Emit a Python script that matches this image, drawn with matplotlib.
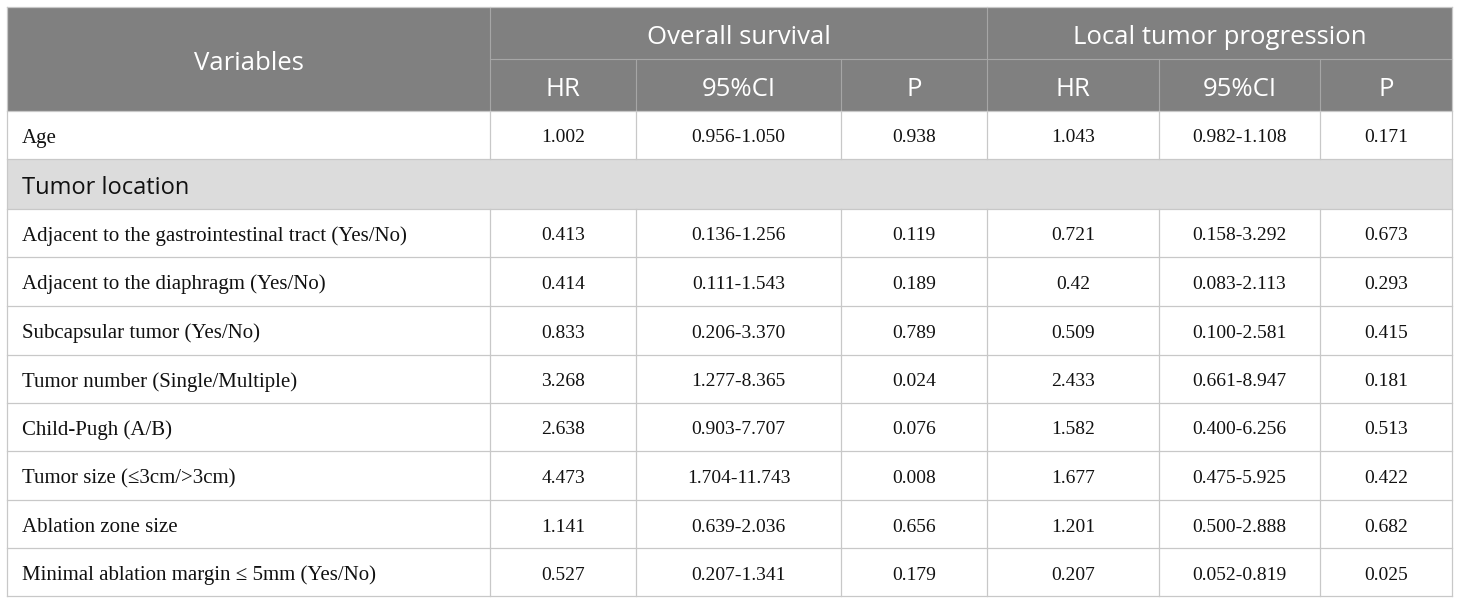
import matplotlib
matplotlib.use("Agg")
import matplotlib.pyplot as plt
from matplotlib.patches import Rectangle

variables = [
    "Age",
    "Adjacent to the gastrointestinal tract (Yes/No)",
    "Adjacent to the diaphragm (Yes/No)",
    "Subcapsular tumor (Yes/No)",
    "Tumor number (Single/Multiple)",
    "Child-Pugh (A/B)",
    "Tumor size (\u22643cm/>3cm)",
    "Ablation zone size",
    "Minimal ablation margin \u2264 5mm (Yes/No)",
]
os_hr = ["1.002", "0.413", "0.414", "0.833", "3.268", "2.638", "4.473", "1.141", "0.527"]
os_ci = ["0.956-1.050", "0.136-1.256", "0.111-1.543", "0.206-3.370", "1.277-8.365",
         "0.903-7.707", "1.704-11.743", "0.639-2.036", "0.207-1.341"]
os_p = ["0.938", "0.119", "0.189", "0.789", "0.024", "0.076", "0.008", "0.656", "0.179"]
ltp_hr = ["1.043", "0.721", "0.42", "0.509", "2.433", "1.582", "1.677", "1.201", "0.207"]
ltp_ci = ["0.982-1.108", "0.158-3.292", "0.083-2.113", "0.100-2.581", "0.661-8.947",
          "0.400-6.256", "0.475-5.925", "0.500-2.888", "0.052-0.819"]
ltp_p = ["0.171", "0.673", "0.293", "0.415", "0.181", "0.513", "0.422", "0.682", "0.025"]
section_label = "Tumor location"
section_after = 1  # inserted after first row
group_titles = ["Overall survival", "Local tumor progression"]
sub_titles = ["HR", "95%CI", "P"]
first_header = "Variables"

W, H = 1460, 604
fig = plt.figure(figsize=(W / 100, H / 100), dpi=100)
ax = fig.add_axes([0, 0, 1, 1])
ax.set_xlim(0, W)
ax.set_ylim(H, 0)
ax.axis("off")

col_x = [7, 490, 636, 841, 987, 1159, 1320, 1452]
top, hmid, hbot = 7, 59, 111
row_y = [111, 159, 209, 257, 306, 355, 403, 451, 500, 548, 596]

head_bg = "#808080"
sect_bg = "#dcdcdc"
line_c = "#c8c8c8"
head_line = "#a6a6a6"
sans = ["Open Sans", "DejaVu Sans"]
serif = ["Liberation Serif", "DejaVu Serif"]

# header background
ax.add_patch(Rectangle((col_x[0], top), col_x[-1] - col_x[0], hbot - top,
                       facecolor=head_bg, edgecolor="none"))
# header lines
ax.plot([col_x[1], col_x[-1]], [hmid, hmid], color=head_line, lw=0.8)
for i in [1, 4]:
    ax.plot([col_x[i], col_x[i]], [top, hbot], color=head_line, lw=0.8)
for i in [2, 3, 5, 6]:
    ax.plot([col_x[i], col_x[i]], [hmid, hbot], color=head_line, lw=0.8)

hfs = 18.5
hoff = 4.5
ax.text((col_x[0] + col_x[1]) / 2, (top + hbot) / 2 + hoff, first_header, color="white",
        fontsize=hfs, family=sans, ha="center", va="center")
for g, (a, b) in enumerate([(1, 4), (4, 7)]):
    ax.text((col_x[a] + col_x[b]) / 2, (top + hmid) / 2 + hoff, group_titles[g], color="white",
            fontsize=hfs, family=sans, ha="center", va="center")
    for k in range(3):
        ax.text((col_x[a + k] + col_x[a + k + 1]) / 2, (hmid + hbot) / 2 + hoff, sub_titles[k],
                color="white", fontsize=hfs, family=sans, ha="center", va="center")

# body rows
rows = []
for i in range(len(variables)):
    if i == section_after:
        rows.append(None)
    rows.append(i)

bfs = 15
nfs = 14
for r, idx in enumerate(rows):
    y0, y1 = row_y[r], row_y[r + 1]
    yc = (y0 + y1) / 2 + 3
    if idx is None:
        ax.add_patch(Rectangle((col_x[0], y0), col_x[-1] - col_x[0], y1 - y0,
                               facecolor=sect_bg, edgecolor="none"))
        ax.text(col_x[0] + 15, yc + 1, section_label, fontsize=17, family=sans,
                ha="left", va="center", color="#111111")
        continue
    ax.text(col_x[0] + 15, yc, variables[idx], fontsize=bfs, family=serif,
            ha="left", va="center", color="#111111")
    vals = [os_hr[idx], os_ci[idx], os_p[idx], ltp_hr[idx], ltp_ci[idx], ltp_p[idx]]
    for k, v in enumerate(vals):
        ax.text((col_x[k + 1] + col_x[k + 2]) / 2, yc, v, fontsize=nfs, family=serif,
                ha="center", va="center", color="#111111")
    for xx in col_x[1:-1]:
        ax.plot([xx, xx], [y0, y1], color=line_c, lw=0.9)

for yy in row_y:
    ax.plot([col_x[0], col_x[-1]], [yy, yy], color=line_c, lw=0.9)
ax.plot([col_x[0], col_x[0]], [top, row_y[-1]], color=line_c, lw=0.9)
ax.plot([col_x[-1], col_x[-1]], [top, row_y[-1]], color=line_c, lw=0.9)
ax.plot([col_x[0], col_x[-1]], [top, top], color=line_c, lw=0.9)

fig.savefig("out.png", dpi=100)
